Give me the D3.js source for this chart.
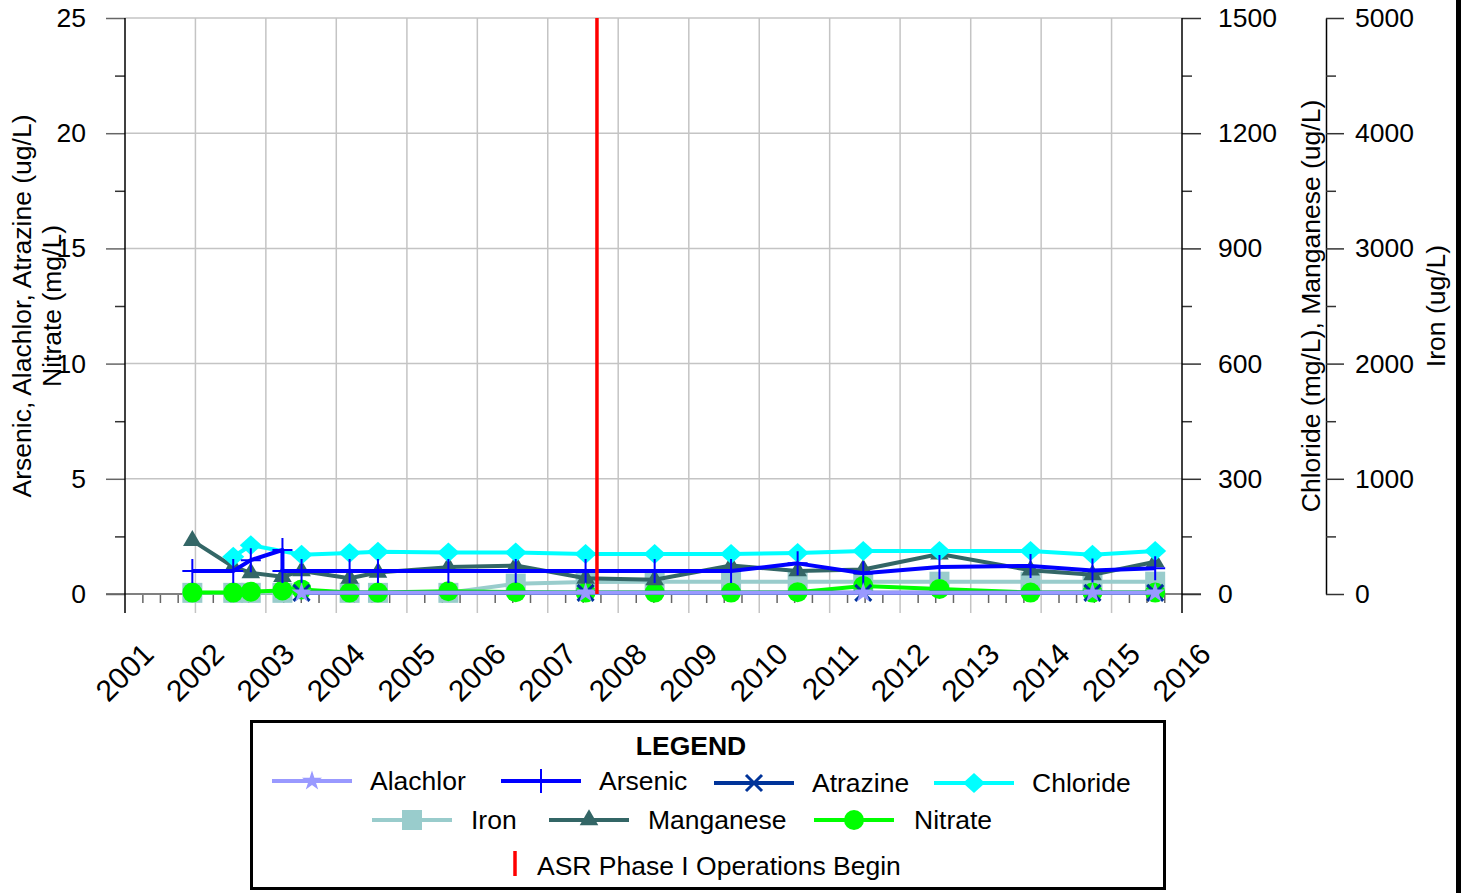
<!DOCTYPE html>
<html><head><meta charset="utf-8">
<script src="https://cdn.jsdelivr.net/npm/d3@7"></script>
<style>
body{margin:0;background:#fff;}
svg{display:block;font-family:"Liberation Sans",Arial,sans-serif;}
</style></head><body>
<svg id="chart" width="1466" height="893"></svg>
<script>
// ---------------- DATA ----------------
const sampleDates = ["2001-12-16","2002-07-16","2002-10-15","2003-03-28","2003-07-05","2004-03-10","2004-08-04","2005-08-04","2006-07-19","2007-07-16","2008-07-08","2009-08-08","2010-07-19","2011-06-24","2012-07-23","2013-11-07","2014-09-24","2015-08-15"];

const nitrateDates = sampleDates;
const nitrateVals = [0.06,0.06,0.10,0.15,0.20,0.06,0.06,0.12,0.08,0.06,0.06,0.06,0.08,0.35,0.22,0.06,0.06,0.06];

const arsenicDates = ["2001-12-16","2002-07-16","2002-10-15","2003-03-28","2003-03-28","2003-07-05","2004-03-10","2004-08-04","2005-08-04","2006-07-19","2007-07-16","2008-07-08","2009-08-08","2010-07-19","2011-06-24","2012-07-23","2013-11-07","2014-09-24","2015-08-15"];
const arsenicVals = [1.0,1.0,1.47,1.91,1.0,1.0,1.0,1.0,1.0,1.0,1.0,1.0,1.0,1.33,0.9,1.17,1.22,1.02,1.12];

const chlorideDates = ["2002-07-16","2002-10-15","2003-07-05","2004-03-10","2004-08-04","2005-08-04","2006-07-19","2007-07-16","2008-07-08","2009-08-08","2010-07-19","2011-06-24","2012-07-23","2013-11-07","2014-09-24","2015-08-15"];
const chlorideVals = [97,127,102,107,110,108,108,104,104,104,107,112,112,112,102,112];

const manganeseDates = sampleDates;
const manganeseVals = [139,71,55,45,60,41,56,70,74,41,37,74,60,64,104,62,50,84];

const ironDates = ["2001-12-16","2002-07-16","2002-10-15","2003-03-28","2004-03-10","2004-08-04","2005-08-04","2006-07-19","2007-07-16","2008-07-08","2009-08-08","2010-07-19","2011-06-24","2012-07-23","2013-11-07","2014-09-24","2015-08-15"];
const ironVals = [10,10,10,10,10,10,10,90,105,107,107,107,107,107,107,107,107];

const alachlorDates = ["2003-07-05","2007-07-16","2011-06-24","2014-09-24","2015-08-15"];
const alachlorVals = [0.05,0.05,0.05,0.05,0.05];
const atrazineDates = alachlorDates;
const atrazineVals = [0.05,0.05,0.05,0.05,0.05];

const asrDate = "2007-09-13";

const yearLabels = ["2001","2002","2003","2004","2005","2006","2007","2008","2009","2010","2011","2012","2013","2014","2015","2016"];
const leftTicks = [0,5,10,15,20,25];
const right1Ticks = [0,300,600,900,1200,1500];
const right2Ticks = [0,1000,2000,3000,4000,5000];

// ---------------- CHART ----------------
const svg = d3.select("#chart");
const parse = d3.timeParse("%Y-%m-%d");
const L = 125, R = 1182, T = 18, B = 594;
const FS = 26.5;
const FONT = "Liberation Sans, Arial, sans-serif";

const x = d3.scaleTime().domain([parse("2001-01-01"), parse("2016-01-01")]).range([L, R]);
const yL = d3.scaleLinear().domain([0,25]).range([B, T]);
const yR1 = d3.scaleLinear().domain([0,1500]).range([B, T]);
const yR2 = d3.scaleLinear().domain([0,5000]).range([B, T]);

const gridColor = "#c4c4c4";
svg.append("g").selectAll("line").data(leftTicks).join("line")
  .attr("x1", L).attr("x2", R).attr("y1", d=>yL(d)).attr("y2", d=>yL(d))
  .attr("stroke", gridColor).attr("stroke-width", 1.5);
const yearDates = yearLabels.map(y => parse(y + "-01-01"));
svg.append("g").selectAll("line").data(yearDates.slice(1, -1)).join("line")
  .attr("x1", d=>x(d)).attr("x2", d=>x(d)).attr("y1", T).attr("y2", B + 19)
  .attr("stroke", gridColor).attr("stroke-width", 1.5);

// bottom minor ticks (quarters)
const quarterDates = d3.timeMonth.every(3).range(parse("2001-01-01"), parse("2016-01-02"))
  .filter(d => d.getMonth() !== 0);
const bottomMinor = d3.axisBottom(x).tickValues(quarterDates).tickSize(9).tickFormat("").tickSizeOuter(0);
svg.append("g").attr("transform", `translate(0,${B})`).call(bottomMinor)
  .call(g => g.select(".domain").remove())
  .call(g => g.selectAll("line").attr("stroke", "#666").attr("stroke-width", 1.5));
svg.append("line").attr("x1", 106).attr("x2", 1201).attr("y1", B).attr("y2", B)
  .attr("stroke", "#808080").attr("stroke-width", 2);

// year labels
const bottomAxis = d3.axisBottom(x).tickValues(yearDates).tickSize(0).tickFormat((d,i)=>yearLabels[i]);
svg.append("g").attr("transform", `translate(0,${B})`).call(bottomAxis)
  .call(g => g.select(".domain").remove())
  .call(g => g.selectAll("text")
     .attr("font-size", 30).attr("font-family", FONT)
     .attr("fill", "#000").attr("text-anchor", "end")
     .attr("y", 0).attr("dy", 0)
     .attr("transform", "translate(30,62) rotate(-45)"));

// left axis
const leftMajor = d3.axisLeft(yL).tickValues(leftTicks).tickSize(19).tickPadding(20).tickSizeOuter(0);
svg.append("g").attr("transform", `translate(${L},0)`).call(leftMajor)
  .call(g => g.select(".domain").remove())
  .call(g => g.selectAll("line").attr("stroke", "#666").attr("stroke-width", 1.5))
  .call(g => g.selectAll("text").attr("font-size", FS).attr("font-family", FONT).attr("fill","#000"));
const leftMinor = d3.axisLeft(yL).tickValues([2.5,7.5,12.5,17.5,22.5]).tickSize(10).tickFormat("").tickSizeOuter(0);
svg.append("g").attr("transform", `translate(${L},0)`).call(leftMinor)
  .call(g => g.select(".domain").remove())
  .call(g => g.selectAll("line").attr("stroke", "#333").attr("stroke-width", 1.5));
svg.append("line").attr("x1", L).attr("x2", L).attr("y1", T).attr("y2", B + 19).attr("stroke", "#000").attr("stroke-width", 1.5);

// right axis 1
const r1Major = d3.axisRight(yR1).tickValues(right1Ticks).tickSize(19).tickPadding(17).tickSizeOuter(0).tickFormat(d3.format("d"));
svg.append("g").attr("transform", `translate(${R},0)`).call(r1Major)
  .call(g => g.select(".domain").remove())
  .call(g => g.selectAll("line").attr("stroke", "#333").attr("stroke-width", 1.5))
  .call(g => g.selectAll("text").attr("font-size", FS).attr("font-family", FONT).attr("fill","#000"));
const r1Minor = d3.axisRight(yR1).tickValues([150,450,750,1050,1350]).tickSize(10).tickFormat("").tickSizeOuter(0);
svg.append("g").attr("transform", `translate(${R},0)`).call(r1Minor)
  .call(g => g.select(".domain").remove())
  .call(g => g.selectAll("line").attr("stroke", "#333").attr("stroke-width", 1.5));
svg.append("line").attr("x1", R).attr("x2", R).attr("y1", T).attr("y2", B + 19).attr("stroke", "#000").attr("stroke-width", 1.5);

// right axis 2
const A2 = 1326;
const r2Major = d3.axisRight(yR2).tickValues(right2Ticks).tickSize(18).tickPadding(11).tickSizeOuter(0).tickFormat(d3.format("d"));
svg.append("g").attr("transform", `translate(${A2},0)`).call(r2Major)
  .call(g => g.select(".domain").attr("stroke", "#000").attr("stroke-width", 1.5))
  .call(g => g.selectAll("line").attr("stroke", "#333").attr("stroke-width", 1.5))
  .call(g => g.selectAll("text").attr("font-size", FS).attr("font-family", FONT).attr("fill","#000"));
const r2Minor = d3.axisRight(yR2).tickValues([500,1500,2500,3500,4500]).tickSize(10).tickFormat("").tickSizeOuter(0);
svg.append("g").attr("transform", `translate(${A2},0)`).call(r2Minor)
  .call(g => g.select(".domain").remove())
  .call(g => g.selectAll("line").attr("stroke", "#333").attr("stroke-width", 1.5));

// axis titles
const title = (tx, ty, txt) => svg.append("text")
  .attr("transform", `translate(${tx},${ty}) rotate(-90)`)
  .attr("text-anchor", "middle").attr("font-size", FS).attr("fill", "#000").text(txt);
title(31, 306, "Arsenic, Alachlor, Atrazine (ug/L)");
title(61, 306, "Nitrate (mg/L)");
title(1320, 306, "Chloride (mg/L), Manganese (ug/L)");
title(1445, 306, "Iron (ug/L)");

// right frame edge
svg.append("rect").attr("x", 1456).attr("y", 0).attr("width", 5).attr("height", 893).attr("fill", "#000");

// ---------------- MARKERS ----------------
function markerPath(type) {
  if (type === "circle") return d3.symbol(d3.symbolCircle, Math.PI * 100)();
  if (type === "square") return d3.symbol(d3.symbolSquare, 400)();
  if (type === "triangle") return d3.symbol(d3.symbolTriangle, 150)();
  if (type === "star") return d3.symbol(d3.symbolStar, 125)();
  if (type === "diamond") return "M0,-10L11,0L0,10L-11,0Z";
  if (type === "plus") return "M-10,0H10M0,-12V12";
  if (type === "x") return "M-8,-8L8,8M8,-8L-8,8";
  return "";
}

const series = [
  {name:"Iron", dates:ironDates, vals:ironVals, y:yR2, color:"#99cccc", marker:"square"},
  {name:"Nitrate", dates:nitrateDates, vals:nitrateVals, y:yL, color:"#00ff00", marker:"circle"},
  {name:"Manganese", dates:manganeseDates, vals:manganeseVals, y:yR1, color:"#336666", marker:"triangle"},
  {name:"Chloride", dates:chlorideDates, vals:chlorideVals, y:yR1, color:"#00ffff", marker:"diamond"},
  {name:"Arsenic", dates:arsenicDates, vals:arsenicVals, y:yL, color:"#0000ff", marker:"plus"},
  {name:"Atrazine", dates:atrazineDates, vals:atrazineVals, y:yL, color:"#003399", marker:"x"},
  {name:"Alachlor", dates:alachlorDates, vals:alachlorVals, y:yL, color:"#9999ff", marker:"star"}
];

function drawMarker(g, type, color) {
  const p = g.append("path").attr("d", markerPath(type));
  if (type === "plus") p.attr("fill","none").attr("stroke", color).attr("stroke-width", 2);
  else if (type === "x") p.attr("fill","none").attr("stroke", color).attr("stroke-width", 3);
  else p.attr("fill", color);
}

series.forEach(s => {
  const pts = s.dates.map((d,i) => [x(parse(d)), s.y(s.vals[i])]);
  const g = svg.append("g");
  g.append("path").attr("d", d3.line()(pts)).attr("fill","none")
    .attr("stroke", s.color).attr("stroke-width", 4).attr("stroke-linejoin","round");
  pts.forEach(p => drawMarker(g.append("g").attr("transform", `translate(${p[0]},${p[1]})`), s.marker, s.color));
});

// ASR line
svg.append("line").attr("x1", x(parse(asrDate))).attr("x2", x(parse(asrDate)))
  .attr("y1", T).attr("y2", B).attr("stroke", "#ff0000").attr("stroke-width", 3.5);

// ---------------- LEGEND ----------------
const lg = svg.append("g");
lg.append("rect").attr("x", 251.5).attr("y", 721.5).attr("width", 913).attr("height", 167)
  .attr("fill", "#fff").attr("stroke", "#000").attr("stroke-width", 3);
lg.append("text").attr("x", 691).attr("y", 755).attr("text-anchor","middle")
  .attr("font-size", FS).attr("font-weight","bold").text("LEGEND");
const legendLayout = {
  Alachlor:[272,370,781], Arsenic:[501,599,781], Atrazine:[714,812,783], Chloride:[934,1032,783],
  Iron:[372,471,820], Manganese:[549,648,820], Nitrate:[814,914,820]
};
series.forEach(s => {
  const [lx, tx, ly] = legendLayout[s.name];
  lg.append("line").attr("x1", lx).attr("x2", lx + 80).attr("y1", ly).attr("y2", ly)
    .attr("stroke", s.color).attr("stroke-width", 4);
  drawMarker(lg.append("g").attr("transform", `translate(${lx+40},${ly})`), s.marker, s.color);
  lg.append("text").attr("x", tx).attr("y", ly).attr("dy", "0.35em").attr("font-size", FS).text(s.name);
});
lg.append("line").attr("x1", 515).attr("x2", 515).attr("y1", 851).attr("y2", 876)
  .attr("stroke", "#ff0000").attr("stroke-width", 3.5);
lg.append("text").attr("x", 537).attr("y", 866).attr("dy","0.35em").attr("font-size", FS).text("ASR Phase I Operations Begin");
</script>
</body></html>
